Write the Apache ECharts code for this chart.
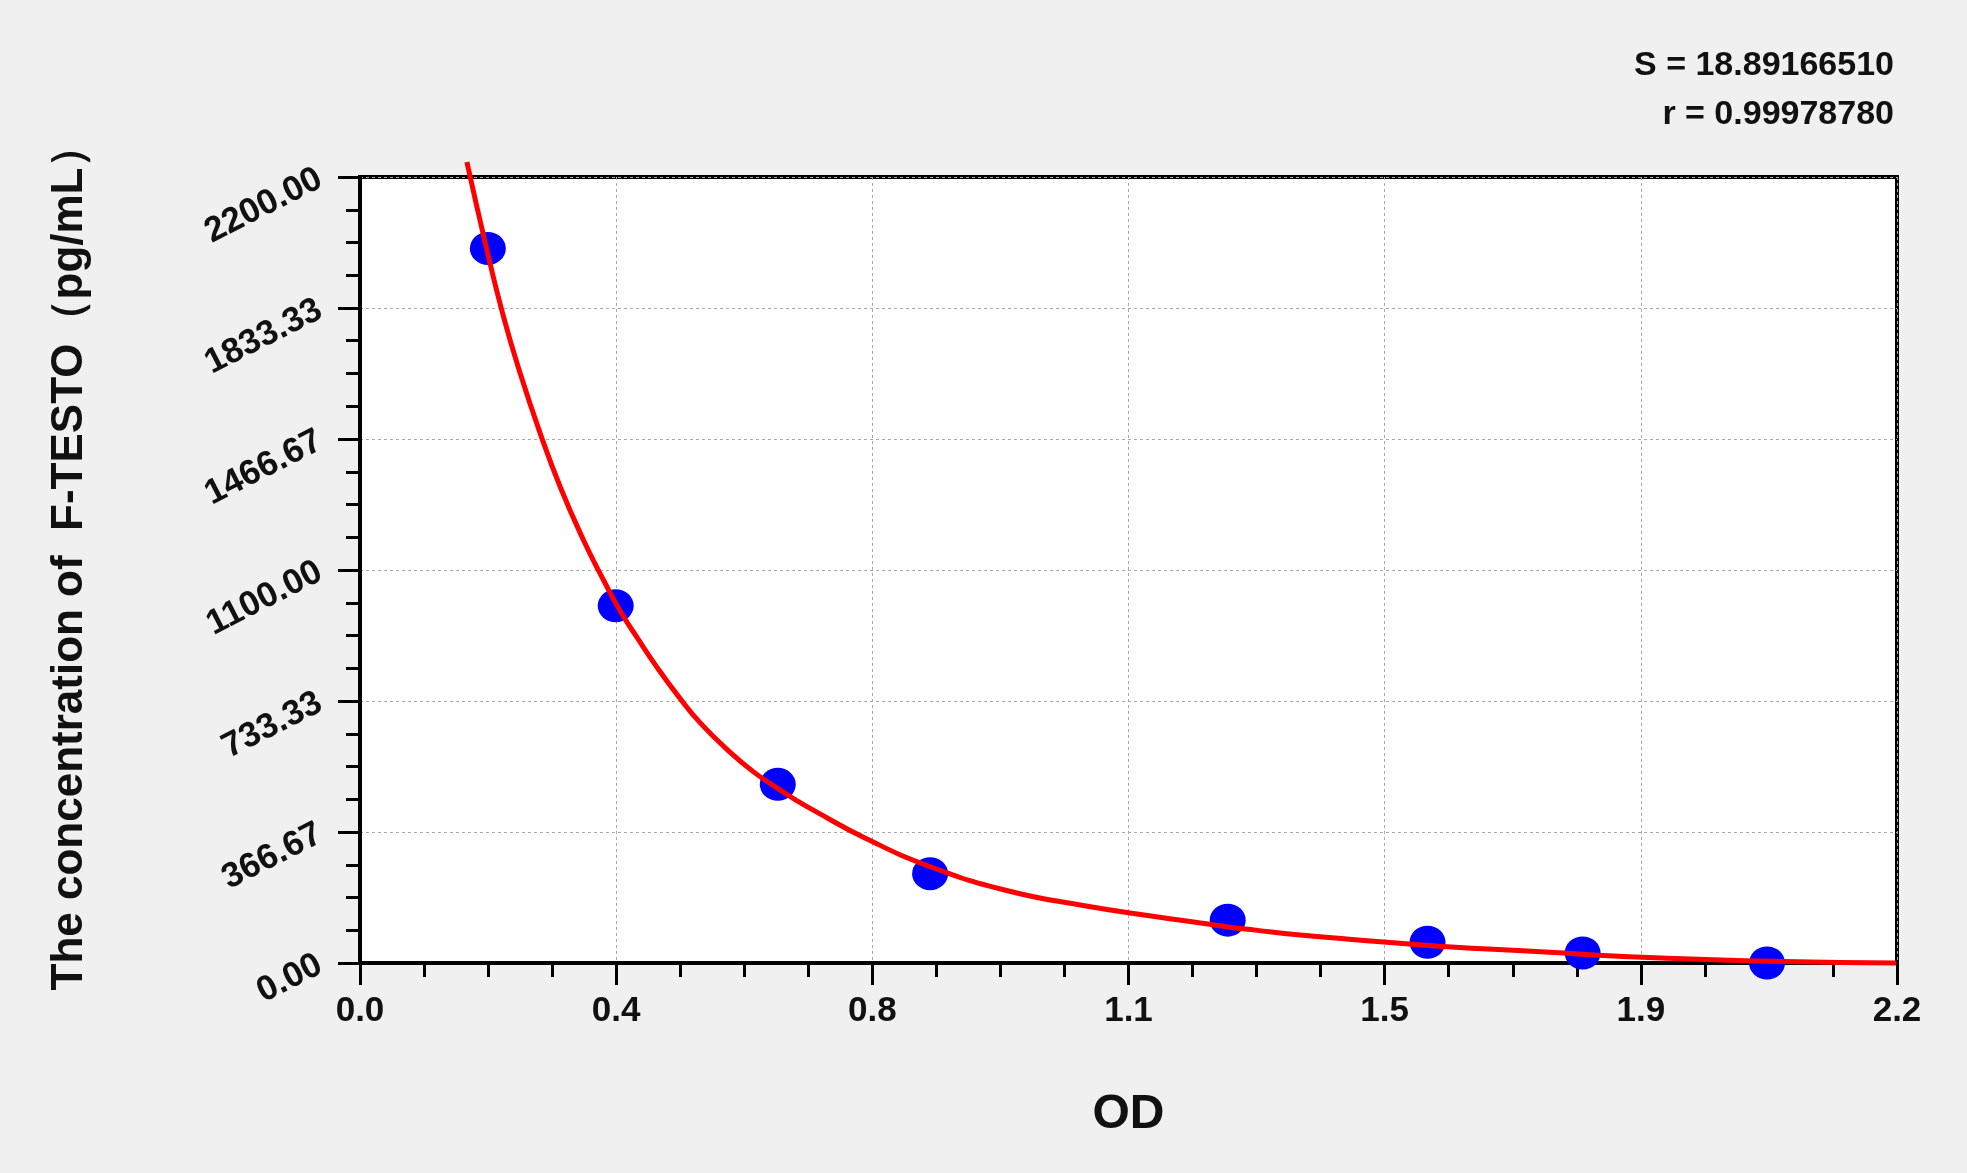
<!DOCTYPE html>
<html>
<head>
<meta charset="utf-8">
<title>F-TESTO standard curve</title>
<script src="https://cdn.jsdelivr.net/npm/echarts@6/dist/echarts.min.js"></script>
<style>
  html, body { margin: 0; padding: 0; background: #f0f0f0; }
  #chart { width: 1967px; height: 1173px; }
</style>
</head>
<body>
<div id="chart"></div>
<script>
// standard points (OD, concentration)
const pointOD = [0.183, 0.366, 0.598, 0.816, 1.242, 1.528, 1.750, 2.014];
const pointConc = [2000, 1000, 500, 250, 120, 58, 28, 0];

// fitted curve
const curveOD = [0.153, 0.1815, 0.2053, 0.2292, 0.2578, 0.2865, 0.3198, 0.3485, 0.3724,
  0.3963, 0.425, 0.4583, 0.487, 0.5252, 0.5633, 0.5968, 0.6206, 0.6514, 0.7227, 0.8158,
  0.9255, 1.035, 1.1447, 1.2031, 1.2423, 1.282, 1.342, 1.42, 1.545, 1.703, 1.8015, 2.038, 2.199];
const curveConc = [2242, 1997, 1810, 1651, 1483, 1333, 1184, 1072, 985,
  912, 828, 740, 672, 598, 535, 490, 460, 425, 350, 270,
  203, 161, 128, 112, 101, 92, 79, 66, 47, 30, 19, 4, 0];

const xTickLabels = ['0.0', '0.4', '0.8', '1.1', '1.5', '1.9', '2.2'];
const yTickLabels = ['0.00', '366.67', '733.33', '1100.00', '1466.67', '1833.33', '2200.00'];
const statLines = ['S = 18.89166510', 'r = 0.99978780'];

const xMax = 2.2;
const yMax = 2200;
const xStep = xMax / 6;
const yStep = yMax / 6;

const font = '"Liberation Sans", Arial, sans-serif';

const chart = echarts.init(document.getElementById('chart'));

const axisCommon = {
  axisLine: { show: true, lineStyle: { color: '#000', width: 3 } },
  axisTick: { show: true, length: 22, lineStyle: { color: '#000', width: 3 } },
  minorTick: { show: true, splitNumber: 4, length: 14, lineStyle: { color: '#000', width: 3 } },
  splitLine: { show: true, lineStyle: { color: '#aaa', width: 1, type: [3, 3] } },
};

chart.setOption({
  backgroundColor: '#f0f0f0',
  animation: false,
  grid: {
    left: 360,
    right: 70,
    top: 177,
    bottom: 210,
    show: true,
    backgroundColor: '#fff',
    borderColor: '#000',
    borderWidth: 4,
  },
  graphic: statLines.map((t, i) => ({
    type: 'text',
    right: 73,
    top: 49 + i * 49,
    style: {
      text: t,
      font: 'bold 34px ' + font,
      fill: '#111',
      textAlign: 'right',
    },
  })),
  xAxis: {
    type: 'value',
    min: 0,
    max: xMax,
    interval: xStep,
    ...axisCommon,
    axisLabel: {
      margin: 31,
      color: '#111',
      fontFamily: font,
      fontWeight: 'bold',
      fontSize: 35,
      formatter: (v) => xTickLabels[Math.round(v / xStep)],
    },
    name: 'OD',
    nameLocation: 'middle',
    nameGap: 128,
    nameTextStyle: {
      color: '#111', fontFamily: font, fontWeight: 'bold', fontSize: 48,
    },
  },
  yAxis: {
    type: 'value',
    min: 0,
    max: yMax,
    interval: yStep,
    ...axisCommon,
    axisLabel: {
      margin: 40,
      rotate: 27,
      color: '#111',
      fontFamily: font,
      fontWeight: 'bold',
      fontSize: 35,
      formatter: (v) => yTickLabels[Math.round(v / yStep)],
    },
    name: 'The concentration of  F-TESTO（pg/mL）',
    nameLocation: 'middle',
    nameGap: 268,
    nameTextStyle: {
      color: '#111',
      fontFamily: font,
      fontWeight: 'bold',
      fontSize: 44,
      padding: [0, 0, 0, 26],
    },
  },
  series: [
    {
      type: 'scatter',
      data: pointOD.map((x, i) => [x, pointConc[i]]),
      symbol: 'circle',
      symbolSize: [36, 33],
      itemStyle: { color: '#0000ff', opacity: 1 },
      z: 2,
    },
    {
      type: 'line',
      data: curveOD.map((x, i) => [x, curveConc[i]]),
      showSymbol: false,
      smooth: 0.5,
      clip: false,
      lineStyle: { color: '#ff0000', width: 5 },
      z: 3,
    },
  ],
});
</script>
</body>
</html>
